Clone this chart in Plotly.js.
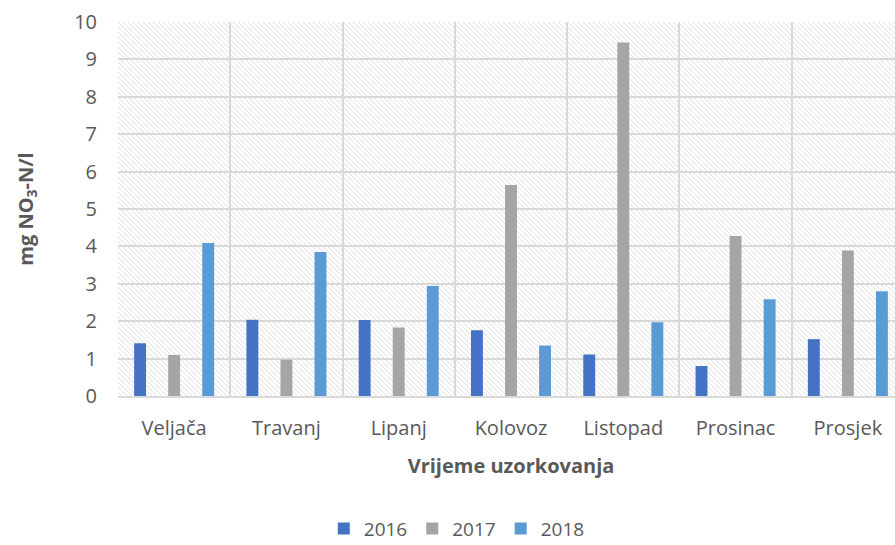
<!DOCTYPE html>
<html>
<head>
<meta charset="utf-8">
<script src="https://cdn.plot.ly/plotly-3.0.1.min.js"></script>
<style>
html,body{margin:0;padding:0;overflow:hidden;background:#fff;}
#chart{width:910px;height:545px;}
</style>
</head>
<body>
<div id="chart"></div>
<script>
const categories = ["Veljača","Travanj","Lipanj","Kolovoz","Listopad","Prosinac","Prosjek"];
const series2016 = [1.41, 2.04, 2.03, 1.76, 1.11, 0.80, 1.52];
const series2017 = [1.10, 0.97, 1.83, 5.64, 9.45, 4.28, 3.89];
const series2018 = [4.09, 3.85, 2.94, 1.35, 1.97, 2.59, 2.80];
const seriesNames = ["2016","2017","2018"];
const colors = ["#4472C4","#A5A5A5","#5B9BD5"];

const textColor = "#595959";
const font = "'Open Sans', 'Noto Sans', sans-serif";

const allSeries = [series2016, series2017, series2018];
const traces = allSeries.map((vals, i) => ({
  type: "bar",
  name: seriesNames[i],
  x: categories,
  y: vals,
  marker: {color: colors[i], line: {width: 0}},
  hoverinfo: "x+y+name"
}));

const plotW = 786, plotH = 374;
const svg = `<svg xmlns="http://www.w3.org/2000/svg" width="${plotW}" height="${plotH}" viewBox="0 0 ${plotW} ${plotH}">
<defs><pattern id="p" patternUnits="userSpaceOnUse" width="5" height="5">
<path d="M0,0 L5,5 M-2.5,2.5 L2.5,7.5 M2.5,-2.5 L7.5,2.5" stroke="#e0e0e0" stroke-width="1"/>
</pattern></defs>
<rect width="${plotW}" height="${plotH}" fill="url(#p)"/></svg>`;
const bgImg = "data:image/svg+xml;base64," + btoa(svg);

const layout = {
  width: 910,
  height: 545,
  margin: {l: 118, r: 6, t: 22, b: 149},
  paper_bgcolor: "#ffffff",
  plot_bgcolor: "rgba(0,0,0,0)",
  font: {family: font, color: textColor, size: 20},
  barmode: "group",
  bargap: 0.09,
  bargroupgap: 0.65,
  showlegend: true,
  legend: {
    orientation: "h",
    xref: "paper", x: 0.431, xanchor: "center",
    yref: "container", y: 0.03, yanchor: "middle",
    font: {size: 19, color: textColor},
    itemwidth: 30,
    traceorder: "normal"
  },
  xaxis: {
    type: "category",
    tickson: "boundaries",
    showgrid: true,
    gridcolor: "#d9d9d9",
    gridwidth: 2,
    showline: true,
    linecolor: "#d9d9d9",
    linewidth: 2,
    ticks: "",
    ticklabelstandoff: 13,
    tickfont: {size: 20, color: textColor},
    range: [-0.5, 6.5],
    fixedrange: true,
    title: {text: "<b>Vrijeme uzorkovanja</b>", font: {size: 20, color: textColor}, standoff: 19}
  },
  yaxis: {
    range: [0, 10],
    dtick: 1,
    tick0: 0,
    showgrid: true,
    gridcolor: "#d9d9d9",
    gridwidth: 2,
    zeroline: false,
    showline: false,
    ticks: "",
    ticklabelstandoff: 20,
    tickfont: {size: 20, color: textColor},
    fixedrange: true,
    title: {text: "<b>mg NO<sub>3</sub>-N/l</b>", font: {size: 20, color: textColor}, standoff: 35}
  },
  images: [{
    source: bgImg,
    xref: "paper", yref: "paper",
    x: 0, y: 1, sizex: 1, sizey: 1,
    xanchor: "left", yanchor: "top",
    sizing: "stretch",
    layer: "below"
  }]
};

Plotly.newPlot("chart", traces, layout, {displayModeBar: false, staticPlot: true});
</script>
</body>
</html>
